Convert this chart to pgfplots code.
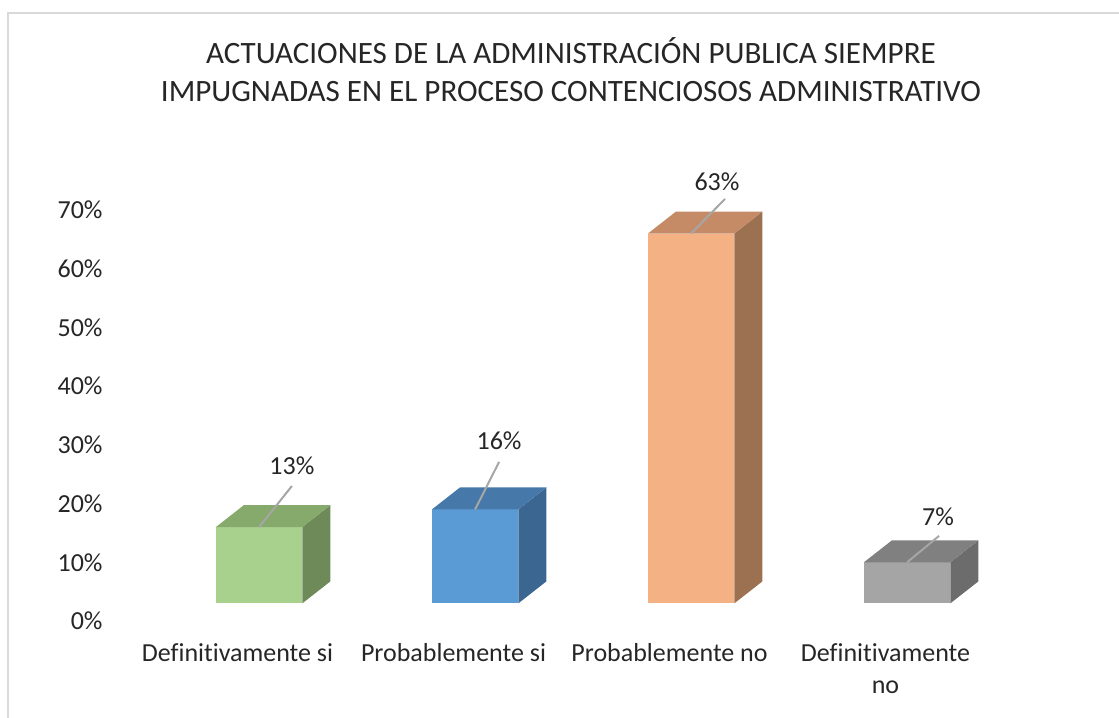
\documentclass[border=0pt]{standalone}
\usepackage{pgfplots}
\pgfplotsset{compat=1.18}
\usepackage{fontspec}
\setmainfont{Carlito}[Ligatures={NoCommon,NoContextual}, Contextuals=NoAlternate]

\definecolor{txt}{HTML}{262626}
\definecolor{frame}{HTML}{D9D9D9}
\definecolor{lead}{HTML}{A6A6A6}
\definecolor{gF}{HTML}{A9D18E}\definecolor{gT}{HTML}{86A96C}\definecolor{gS}{HTML}{6D8A58}
\definecolor{bF}{HTML}{5B9BD5}\definecolor{bT}{HTML}{4678A9}\definecolor{bS}{HTML}{3B6691}
\definecolor{oF}{HTML}{F4B183}\definecolor{oT}{HTML}{C48B66}\definecolor{oS}{HTML}{9C7152}
\definecolor{aF}{HTML}{A5A5A5}\definecolor{aT}{HTML}{808080}\definecolor{aS}{HTML}{6C6C6C}

\begin{document}
\begin{tikzpicture}[x=1pt,y=1pt]
\path[use as bounding box] (0,0) rectangle (839.25,537.75);
\draw[line width=1.5pt, frame] (6,-5) -- (6,528) -- (845,528);

% bars: front face from 3 to 3+v, depth offset 0.13 in x and 3.75 in y
\begin{axis}[
  at={(97.125pt,72pt)}, anchor=south west,
  scale only axis, width=648pt, height=317pt,
  xmin=-0.5, xmax=3.5, ymin=0, ymax=72,
  clip=false,
  axis line style={draw=none}, major tick length=0pt,
  xtick={0,1,2,3},
  xticklabels={Definitivamente si, Probablemente si, Probablemente no, {Definitivamente\\no}},
  ytick={0,10,...,70},
  yticklabel={\pgfmathprintnumber{\tick}\%},
  /pgf/number format/assume math mode=true,
  ticklabel style={font=\fontsize{19.5}{23.5}\selectfont, text=txt},
  xticklabel style={align=center, anchor=north, inner sep=0pt, yshift=-17pt},
  yticklabel style={anchor=east, inner sep=0pt, xshift=-20pt},
  every axis plot/.append style={draw=none},
]
% Definitivamente si 13%
\addplot[fill=gF] coordinates {(-0.10,3) (0.30,3) (0.30,16) (-0.10,16)} --cycle;
\addplot[fill=gS] coordinates {(0.30,3) (0.43,6.75) (0.43,19.75) (0.30,16)} --cycle;
\addplot[fill=gT] coordinates {(-0.10,16) (0.30,16) (0.43,19.75) (0.03,19.75)} --cycle;
% Probablemente si 16%
\addplot[fill=bF] coordinates {(0.90,3) (1.30,3) (1.30,19) (0.90,19)} --cycle;
\addplot[fill=bS] coordinates {(1.30,3) (1.43,6.75) (1.43,22.75) (1.30,19)} --cycle;
\addplot[fill=bT] coordinates {(0.90,19) (1.30,19) (1.43,22.75) (1.03,22.75)} --cycle;
% Probablemente no 63%
\addplot[fill=oF] coordinates {(1.90,3) (2.30,3) (2.30,66) (1.90,66)} --cycle;
\addplot[fill=oS] coordinates {(2.30,3) (2.43,6.75) (2.43,69.75) (2.30,66)} --cycle;
\addplot[fill=oT] coordinates {(1.90,66) (2.30,66) (2.43,69.75) (2.03,69.75)} --cycle;
% Definitivamente no 7%
\addplot[fill=aF] coordinates {(2.90,3) (3.30,3) (3.30,10) (2.90,10)} --cycle;
\addplot[fill=aS] coordinates {(3.30,3) (3.43,6.75) (3.43,13.75) (3.30,10)} --cycle;
\addplot[fill=aT] coordinates {(2.90,10) (3.30,10) (3.43,13.75) (3.03,13.75)} --cycle;

% leader lines
\addplot[draw=lead, line width=1.5pt] coordinates {(0.10,16) (0.252,23.0)};
\addplot[draw=lead, line width=1.5pt] coordinates {(1.10,19) (1.211,27.1)};
\addplot[draw=lead, line width=1.5pt] coordinates {(2.10,66) (2.257,71.9)};
\addplot[draw=lead, line width=1.5pt] coordinates {(3.10,10) (3.248,14.5)};

\begin{scope}[every node/.style={font=\fontsize{19.5}{23.5}\selectfont, text=txt}]
\node at (axis cs:0.252,26.4) {13\%};
\node at (axis cs:1.211,30.7) {16\%};
\node at (axis cs:2.220,74.9) {63\%};
\node at (axis cs:3.243,17.7) {7\%};
\end{scope}
\end{axis}

\begin{scope}[every node/.style={anchor=base, text=txt, font=\fontsize{23.3}{28}\selectfont}]
\node at (428.25,490.3) {ACTUACIONES DE LA ADMINISTRACIÓN PUBLICA SIEMPRE};
\node at (428.25,461.5) {IMPUGNADAS EN EL PROCESO CONTENCIOSOS ADMINISTRATIVO};
\end{scope}
\end{tikzpicture}
\end{document}
